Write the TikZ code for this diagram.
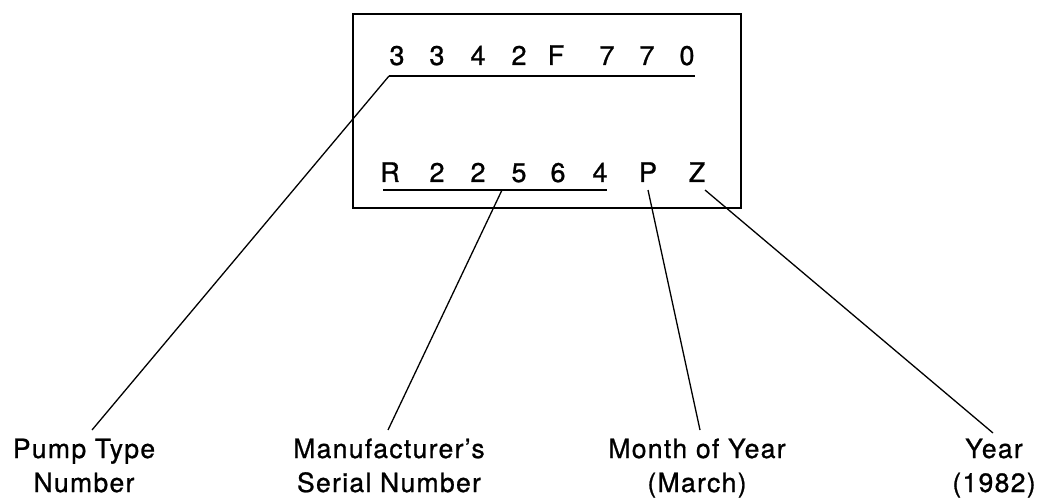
\documentclass[tikz,border=0pt]{standalone}
\usepackage{fontspec}
\setmainfont{TeX Gyre Heros}[BoldFont={TeX Gyre Heros},BoldFeatures={FakeBold=0.9}]
\newfontfamily\lblfont{TeX Gyre Heros}[LetterSpace=5,BoldFont={TeX Gyre Heros},BoldFeatures={FakeBold=0.9,LetterSpace=5}]
\begin{document}
\begin{tikzpicture}[x=1pt,y=-1pt,
  ch/.style={inner sep=0pt,anchor=base,font=\fontsize{27}{30}\selectfont\bfseries},
  lbl/.style={inner sep=0pt,anchor=base,align=center,font=\lblfont\fontsize{26.5}{34}\selectfont\bfseries},
  frame/.style={line width=1.8pt},
  uline/.style={line width=2pt},
  lead/.style={line width=1.3pt}]
\useasboundingbox (0,0) rectangle (1043,502);
\node[draw,frame,minimum width=388pt,minimum height=194pt,anchor=north west,inner sep=0pt] (plate) at (352,13) {};
% top row
\foreach \c/\x [count=\i] in {3/397,3/437,4/478,2/519,F/556,7/607,7/647,0/687}
  \node[ch] (t\i) at (\x,65) {\c};
% bottom row
\foreach \c/\x [count=\i] in {R/390,2/437,2/478,5/519,6/558,4/600,P/648,Z/697}
  \node[ch] (b\i) at (\x,182) {\c};
% underlines
\coordinate (tuA) at (389,76);
\coordinate (tuB) at (695,76);
\draw[uline] (tuA) -- (tuB);
\coordinate (buA) at (383,190);
\coordinate (buB) at (607,190);
\coordinate (buM) at (502,190);
\draw[uline] (buA) -- (buB);
% labels
\node[lbl] (pump) at (84,492) {Pump Type\\Number};
\node[lbl] (serial) at (389,492) {Manufacturer’s\\Serial Number};
\node[lbl] (month) at (697,492) {Month of Year\\(March)};
\node[lbl] (year) at (994,492) {Year\\(1982)};
% leaders
\coordinate (pumpE) at (92,430);
\coordinate (serialE) at (388,430);
\coordinate (monthE) at (700,430);
\coordinate (yearE) at (993,433);
\coordinate (pS) at (648,190);
\coordinate (zS) at (705,190);
\draw[lead] (tuA) -- (pumpE);
\draw[lead] (buM) -- (serialE);
\draw[lead] (pS) -- (monthE);
\draw[lead] (zS) -- (yearE);
\end{tikzpicture}
\end{document}
